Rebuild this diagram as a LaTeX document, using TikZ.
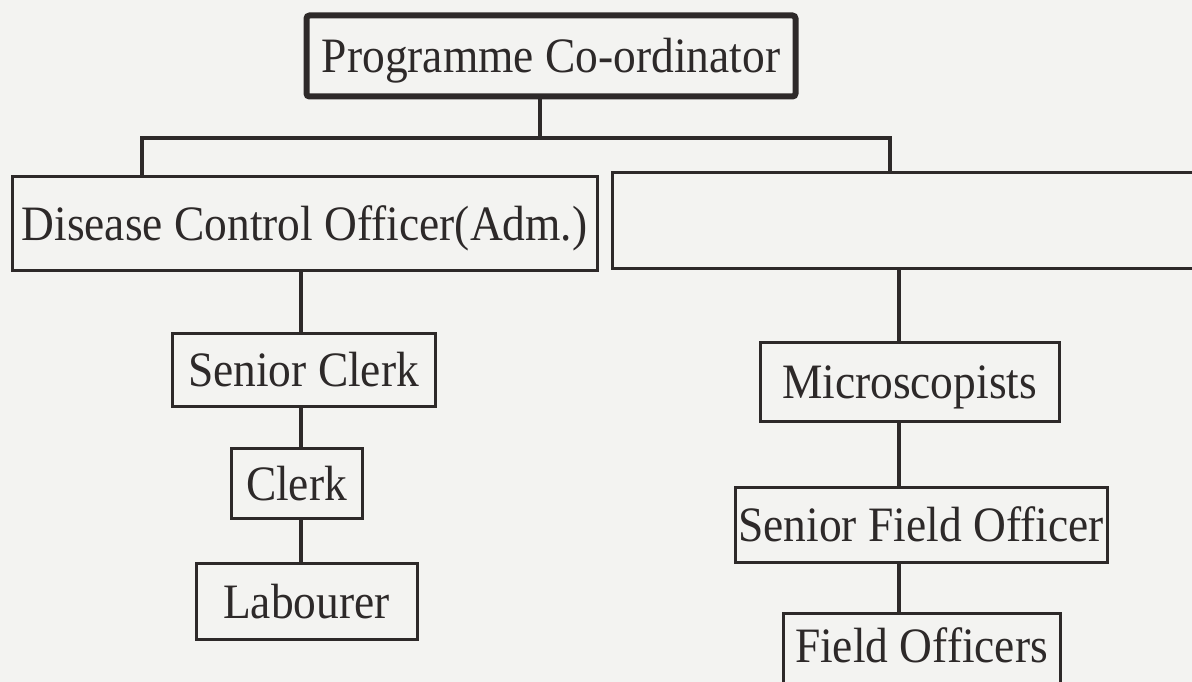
\documentclass[tikz,border=0pt]{standalone}
\usepackage{fontspec}
\usepackage{graphicx}
\setmainfont{Liberation Serif}
\usetikzlibrary{calc}
\definecolor{paper}{RGB}{243,243,241}
\definecolor{ink}{RGB}{45,41,41}
\newcommand{\tallt}[1]{\scalebox{1.01}[1.1]{#1}}
\begin{document}
\begin{tikzpicture}[x=1pt,y=1pt,
  box/.style={draw=ink, line width=3pt, rectangle, inner sep=0pt, text=ink,
    font=\fontsize{45}{54}\selectfont, text height=34pt, text depth=0pt, align=center},
  topbox/.style={box, line width=6pt, rounded corners=3pt},
  link/.style={draw=ink, line width=4.8pt, line join=miter}]
\clip (0,0) rectangle (1192,-682);
\fill[paper] (0,0) rectangle (1192,-682);
% boxes
\node[topbox, minimum width=489pt, minimum height=81pt] (pc) at (551,-56) {\tallt{Programme Co-ordinator}};
\node[box, minimum width=585pt, minimum height=93pt] (dco) at (304.5,-223.5) {\tallt{Disease Control Officer(Adm.)}};
\node[box, minimum width=618pt, minimum height=95pt] (empty) at (921,-220.5) {};
\node[box, minimum width=263pt, minimum height=73pt] (sc) at (303.5,-369.5) {\tallt{Senior Clerk}};
\node[box, minimum width=131pt, minimum height=70pt] (clerk) at (296.5,-483) {\tallt{Clerk}};
\node[box, minimum width=221pt, minimum height=76pt] (lab) at (306.5,-601) {\tallt{Labourer}};
\node[box, minimum width=299pt, minimum height=79pt] (micro) at (909.5,-381.5) {\tallt{Microscopists}};
\node[box, minimum width=372pt, minimum height=75pt] (sfo) at (921,-524.5) {\tallt{Senior Field Officer}};
\node[box, minimum width=277pt, minimum height=120pt, text depth=56pt] (fo) at (921.5,-673) {\tallt{Field Officers}};
% connector coordinates
\coordinate (busTop) at (540,-138);
\coordinate (busL) at (142,-138);
\coordinate (busR) at (890,-138);
\coordinate (xl) at (301,0);
\coordinate (xr) at (899,0);
% connectors
\draw[link] (pc.south -| busTop) -- (busTop);
\draw[link] (dco.north -| busL) -- (busL) -- (busR) -- (empty.north -| busR);
\draw[link] (dco.south -| xl) -- (sc.north -| xl);
\draw[link] (sc.south -| xl) -- (clerk.north -| xl);
\draw[link] (clerk.south -| xl) -- (lab.north -| xl);
\draw[link] (empty.south -| xr) -- (micro.north -| xr);
\draw[link] (micro.south -| xr) -- (sfo.north -| xr);
\draw[link] (sfo.south -| xr) -- (fo.north -| xr);
\end{tikzpicture}
\end{document}
